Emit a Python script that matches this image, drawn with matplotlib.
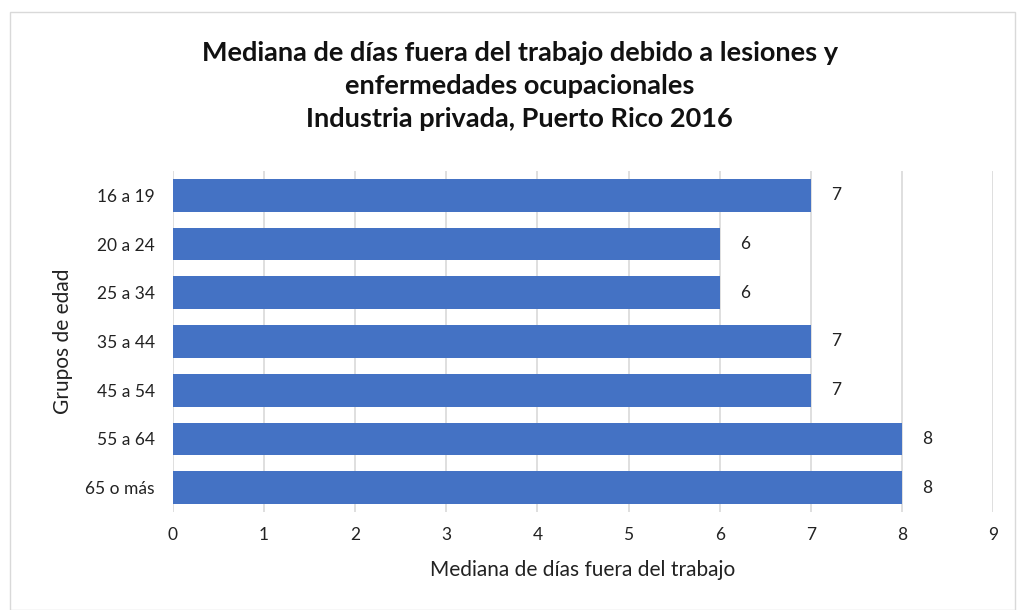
import numpy as np
import matplotlib.pyplot as plt
from matplotlib.patches import Rectangle

grupos = ['16 a 19', '20 a 24', '25 a 34', '35 a 44', '45 a 54', '55 a 64', '65 o más']
dias = [7, 6, 6, 7, 7, 8, 8]

plt.rcParams['font.family'] = ['Lato', 'DejaVu Sans']

fig = plt.figure(figsize=(10.19, 6.10), dpi=100)
ax = fig.add_axes([173 / 1019, 1 - 512 / 610, 820 / 1019, 341 / 610])

y = np.arange(len(grupos))
ax.barh(y, dias, height=0.67, color='#4472C4', zorder=3)
for yi, v in zip(y, dias):
    ax.annotate(str(v), (v, yi), xytext=(18, 0), textcoords='offset points',
                ha='center', va='center', fontsize=12.5, color='#222222')

ax.set_xlim(0, 9)
ax.set_ylim(len(grupos) - 0.5, -0.5)
ax.set_xticks(range(10))
ax.set_yticks(y)
ax.set_yticklabels(grupos)
ax.tick_params(length=0, labelsize=12.5, colors='#222222')
ax.tick_params(axis='x', pad=11)
ax.tick_params(axis='y', pad=13)
ax.grid(axis='x', color='#d9d9d9', linewidth=1.2, zorder=0)
for s in ax.spines.values():
    s.set_visible(False)

ax.set_xlabel('Mediana de días fuera del trabajo', fontsize=15, color='#222222', labelpad=12)
ax.set_ylabel('Grupos de edad', fontsize=15, color='#222222', labelpad=9)

fig.text(0.51, 0.859, 'Mediana de días fuera del trabajo debido a lesiones y\n'
         'enfermedades ocupacionales\nIndustria privada, Puerto Rico 2016',
         ha='center', va='center', fontsize=19.5, fontweight='bold',
         linespacing=1.45, color='#111111')

fig.patches.append(Rectangle((10 / 1019, 0), 1005 / 1019, 1 - 12 / 610,
                             transform=fig.transFigure, fill=False,
                             edgecolor='#d9d9d9', linewidth=1))

fig.savefig('out.png', dpi=100)
